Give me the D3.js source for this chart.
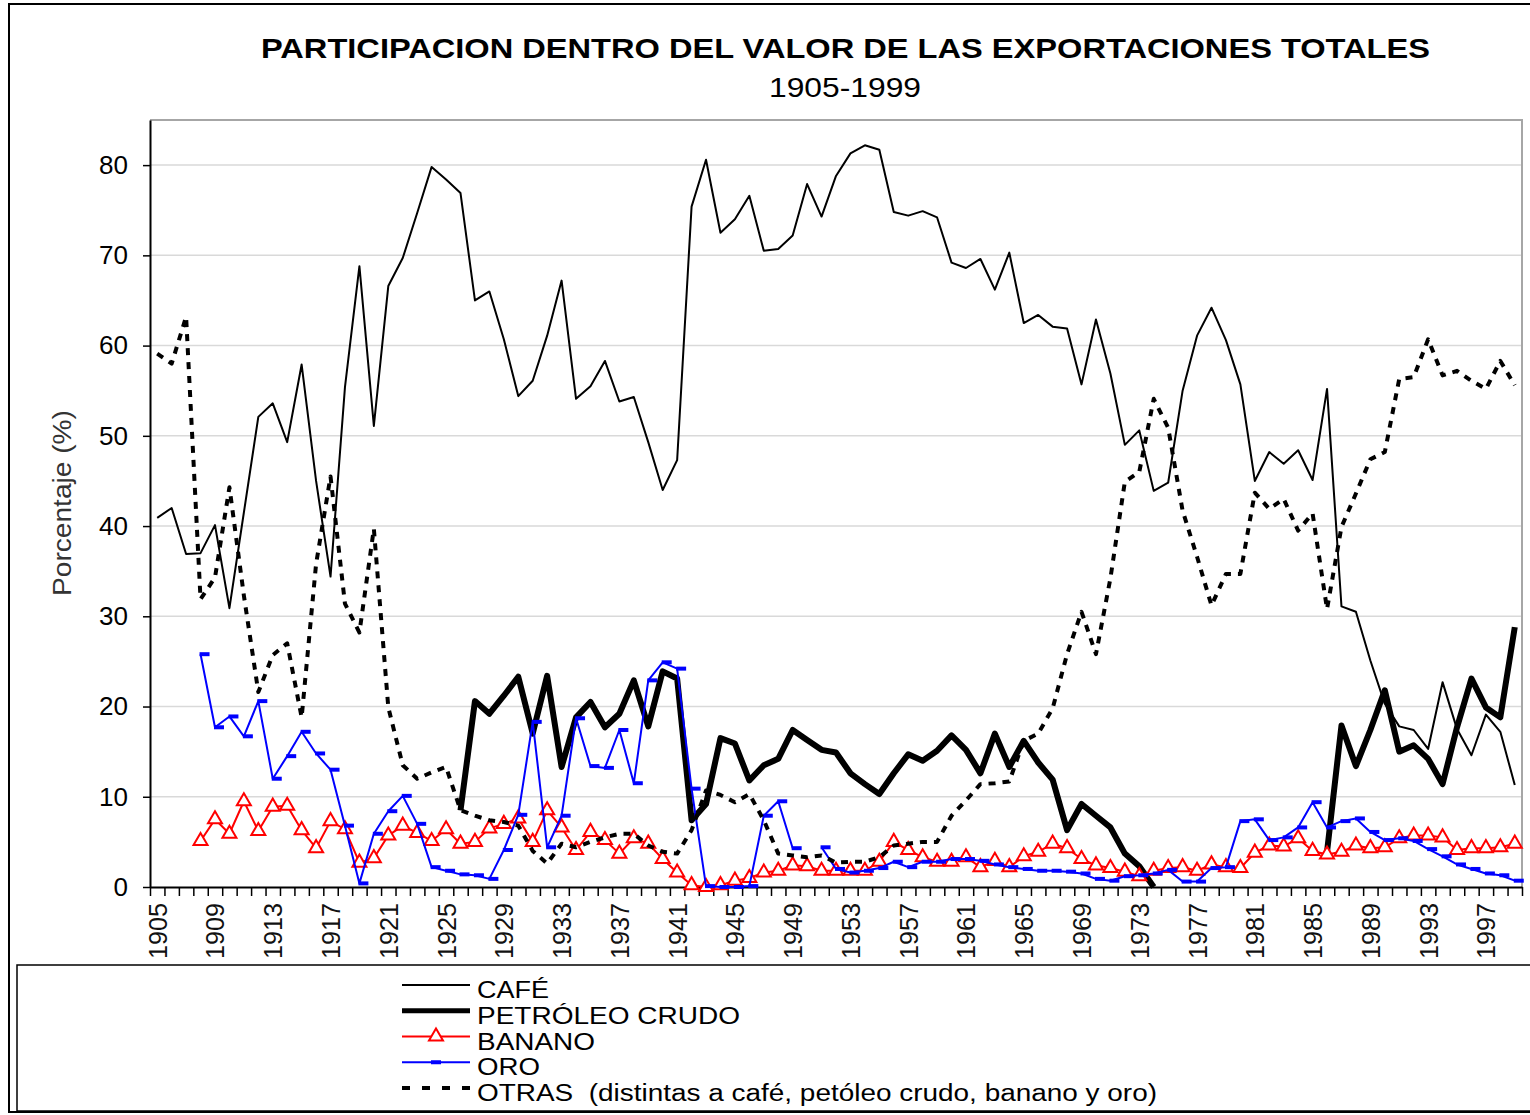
<!DOCTYPE html>
<html>
<head>
<meta charset="utf-8">
<title>Participación dentro del valor de las exportaciones totales</title>
<script src="https://cdn.jsdelivr.net/npm/d3@7"></script>
<style>
  body { margin: 0; background: #fff; }
  svg { display: block; font-family: "Liberation Sans", Arial, Helvetica, sans-serif; }
</style>
</head>
<body>
<div id="chart"></div>
<script>
// shares of total export value, 1905-1999
const years = d3.range(1905, 2000);

const cafe = [
  40.9, 42.0, 36.9, 37.0, 40.1, 30.9, 41.5, 52.1, 53.6, 49.3,
  57.9, 45.0, 34.4, 55.4, 68.8, 51.1, 66.6, 69.7, 74.7, 79.8,
  78.4, 76.9, 65.0, 66.0, 60.7, 54.4, 56.1, 61.1, 67.2, 54.1,
  55.5, 58.3, 53.8, 54.3, 49.3, 44.0, 47.3, 75.4, 80.6, 72.5,
  74.0, 76.6, 70.5, 70.7, 72.2, 77.9, 74.3, 78.8, 81.3, 82.2,
  81.7, 74.8, 74.4, 74.9, 74.2, 69.2, 68.6, 69.6, 66.2, 70.3,
  62.5, 63.4, 62.1, 61.9, 55.7, 62.9, 56.9, 49.0, 50.6, 43.9,
  44.8, 55.0, 61.1, 64.2, 60.6, 55.7, 45.0, 48.2, 46.9, 48.4,
  45.1, 55.2, 31.1, 30.5, 25.1, 20.3, 17.8, 17.4, 15.3, 22.7,
  17.5, 14.6, 19.1, 17.2, 11.3
];

const petroleo = [
  null, null, null, null, null, null, null, null, null, null,
  null, null, null, null, null, null, null, null, null, null,
  null, 8.5, 20.6, 19.2, 21.2, 23.3, 17.0, 23.4, 13.3, 18.8,
  20.5, 17.7, 19.2, 22.9, 17.8, 23.9, 23.1, 7.4, 9.2, 16.5,
  15.9, 11.8, 13.5, 14.2, 17.4, 16.3, 15.2, 14.9, 12.6, 11.4,
  10.3, 12.6, 14.7, 14.0, 15.1, 16.8, 15.2, 12.6, 17.0, 13.3,
  16.2, 13.8, 11.9, 6.3, 9.2, 7.9, 6.6, 3.7, 2.3, 0.0,
  null, null, null, null, null, null, null, null, null, null,
  null, 3.9, 17.9, 13.4, 17.4, 21.8, 15.0, 15.7, 14.2, 11.4,
  17.7, 23.1, 19.9, 18.8, 28.8
];

const banano = [
  null, null, null, 5.1, 7.5, 5.9, 9.5, 6.2, 8.9, 9.0,
  6.3, 4.3, 7.3, 6.4, 2.7, 3.2, 5.7, 6.8, 6.0, 5.1,
  6.4, 4.8, 5.0, 6.5, 7.0, 7.6, 5.0, 8.5, 6.6, 4.1,
  6.1, 5.2, 3.7, 5.4, 4.8, 3.1, 1.6, 0.2, 0.0, 0.2,
  0.7, 1.0, 1.6, 1.8, 2.4, 2.3, 1.8, 1.8, 1.8, 1.8,
  2.8, 5.0, 4.1, 3.3, 2.8, 2.8, 3.3, 2.2, 2.9, 2.2,
  3.4, 3.9, 4.8, 4.3, 3.1, 2.4, 2.1, 1.7, 1.2, 1.8,
  2.1, 2.2, 1.8, 2.5, 2.2, 2.1, 3.8, 4.6, 4.5, 5.4,
  4.0, 3.6, 3.9, 4.6, 4.3, 4.4, 5.4, 5.7, 5.7, 5.5,
  4.1, 4.3, 4.3, 4.4, 4.8
];

const oro = [
  null, null, null, 25.8, 17.7, 18.9, 16.7, 20.6, 12.0, 14.5,
  17.2, 14.8, 13.0, 6.8, 0.4, 5.9, 8.4, 10.1, 7.0, 2.2,
  1.8, 1.4, 1.3, 0.9, 4.1, 8.0, 18.3, 4.4, 7.9, 18.7,
  13.4, 13.2, 17.4, 11.5, 22.9, 24.9, 24.2, 10.9, 0.1, 0.0,
  0.0, 0.1, 7.9, 9.5, 4.3, null, 4.4, 2.0, 1.6, 1.8,
  2.1, 2.8, 2.2, 2.8, 2.8, 3.1, 3.1, 2.9, 2.5, 2.2,
  2.0, 1.8, 1.8, 1.7, 1.5, 0.9, 0.7, 1.2, 1.3, 1.5,
  1.9, 0.6, 0.6, 2.1, 2.2, 7.3, 7.5, 5.2, 5.5, 6.6,
  9.4, 6.6, 7.3, 7.6, 6.1, 5.2, 5.4, 5.1, 4.2, 3.4,
  2.5, 2.0, 1.5, 1.3, 0.7
];

const otras = [
  59.1, 58.0, 63.2, 31.9, 34.3, 44.3, 32.3, 21.6, 25.7, 27.0,
  18.8, 35.8, 45.5, 31.4, 28.2, 39.7, 19.9, 13.5, 12.0, 12.7,
  13.3, 8.5, 7.9, 7.4, 7.2, 6.8, 4.0, 2.6, 4.8, 4.4,
  5.0, 5.5, 5.9, 5.9, 4.6, 3.9, 3.7, 6.3, 10.7, 10.2,
  9.4, 10.3, 7.4, 3.7, 3.5, 3.3, 3.5, 2.7, 2.8, 2.8,
  3.3, 4.6, 4.8, 5.0, 5.0, 7.9, 9.6, 11.4, 11.5, 11.7,
  16.2, 17.0, 19.8, 25.8, 30.5, 25.8, 34.2, 44.9, 46.0, 54.1,
  50.9, 41.7, 36.6, 31.2, 34.7, 34.7, 43.7, 41.9, 43.0, 39.5,
  41.4, 30.8, 39.9, 43.6, 47.4, 48.2, 56.3, 56.5, 60.7, 56.7,
  57.2, 56.1, 55.2, 58.3, 55.6
];

const yTicks = [0, 10, 20, 30, 40, 50, 60, 70, 80];
const labelYears = years.filter(y => (y - 1905) % 4 === 0);

const seriesNames = ['CAFÉ', 'PETRÓLEO CRUDO', 'BANANO', 'ORO',
  'OTRAS  (distintas a café, petóleo crudo, banano y oro)'];

(function() {
  const width = 1530;
  const height = 1115;
  const plot = { left: 150, right: 1522, top: 120, bottom: 887 };

  const svg = d3.select('#chart').append('svg')
    .attr('width', width)
    .attr('height', height);

  svg.append('rect')
    .attr('width', width).attr('height', height)
    .attr('fill', '#fff');

  // outer chart frame
  svg.append('rect')
    .attr('x', 9).attr('y', 4)
    .attr('width', 1530).attr('height', 1108)
    .attr('fill', 'none')
    .attr('stroke', '#000')
    .attr('stroke-width', 2);

  // categories sit in the middle of each year slot, like Excel
  const x = d3.scaleLinear()
    .domain([1904.5, 1999.5])
    .range([plot.left, plot.right]);

  const y = d3.scaleLinear()
    .domain([0, 85])
    .range([plot.bottom, plot.top]);

  // title
  svg.append('text')
    .attr('x', 261).attr('y', 58)
    .attr('textLength', 1169)
    .attr('lengthAdjust', 'spacingAndGlyphs')
    .style('font-size', '28px')
    .style('font-weight', 700)
    .text('PARTICIPACION DENTRO DEL VALOR DE LAS EXPORTACIONES TOTALES');

  svg.append('text')
    .attr('x', 769).attr('y', 97)
    .attr('textLength', 152)
    .attr('lengthAdjust', 'spacingAndGlyphs')
    .style('font-size', '28px')
    .text('1905-1999');

  // gridlines
  svg.append('g')
    .selectAll('line')
    .data(yTicks.filter(d => d > 0))
    .enter().append('line')
    .attr('x1', plot.left).attr('x2', plot.right)
    .attr('y1', d => y(d)).attr('y2', d => y(d))
    .attr('stroke', '#d9d9d9')
    .attr('stroke-width', 1.5);

  // top and right edges of the plot area
  svg.append('path')
    .attr('d', `M${plot.left},${plot.top}H${plot.right}V${plot.bottom}`)
    .attr('fill', 'none')
    .attr('stroke', '#a6a6a6')
    .attr('stroke-width', 2);

  // y axis
  const yAxis = svg.append('g')
    .attr('transform', `translate(${plot.left},0)`)
    .call(d3.axisLeft(y).tickValues(yTicks).tickSize(7).tickPadding(15).tickSizeOuter(0));
  yAxis.select('.domain').attr('stroke-width', 2);
  yAxis.selectAll('.tick line').attr('stroke-width', 1.5);
  yAxis.selectAll('text')
    .style('font-size', '26px')
    .attr('fill', '#000')
    .attr('font-family', null);

  svg.append('text')
    .attr('transform', 'translate(62,503) rotate(-90)')
    .attr('text-anchor', 'middle')
    .attr('dy', '0.35em')
    .attr('textLength', 186)
    .attr('lengthAdjust', 'spacingAndGlyphs')
    .style('font-size', '26px')
    .attr('fill', '#333')
    .text('Porcentaje (%)');

  // x axis: tick marks between years, labels every fourth year
  const xTicks = svg.append('g')
    .attr('transform', `translate(0,${plot.bottom})`)
    .call(d3.axisBottom(x)
      .tickValues(d3.range(1904.5, 2000, 1))
      .tickSize(9).tickSizeOuter(0)
      .tickFormat(''));
  xTicks.select('.domain').attr('stroke-width', 2);
  xTicks.selectAll('.tick line').attr('stroke-width', 1.5);

  const xLabels = svg.append('g')
    .attr('transform', `translate(0,${plot.bottom})`)
    .call(d3.axisBottom(x)
      .tickValues(labelYears)
      .tickSize(0)
      .tickFormat(d3.format('d')));
  xLabels.select('.domain').remove();
  xLabels.selectAll('text')
    .attr('transform', 'rotate(-90)')
    .attr('x', -16)
    .attr('y', 0)
    .attr('dy', '0.36em')
    .attr('text-anchor', 'end')
    .attr('textLength', 56)
    .attr('lengthAdjust', 'spacingAndGlyphs')
    .attr('fill', '#111')
    .attr('font-family', null)
    .style('font-size', '25px');

  // series
  const toPoints = arr => years.map((yr, i) => ({ year: yr, v: arr[i] }));
  const line = d3.line()
    .defined(d => d.v != null)
    .x(d => x(d.year))
    .y(d => y(d.v));

  const series = [
    { name: seriesNames[0], data: toPoints(cafe), color: '#000', width: 2, dash: null, marker: null },
    { name: seriesNames[1], data: toPoints(petroleo), color: '#000', width: 6, dash: null, marker: null },
    { name: seriesNames[2], data: toPoints(banano), color: '#ff0000', width: 2, dash: null, marker: 'triangle' },
    { name: seriesNames[3], data: toPoints(oro), color: '#0000ff', width: 2, dash: null, marker: 'bar' },
    { name: seriesNames[4], data: toPoints(otras), color: '#000', width: 4, dash: '7 7', marker: null }
  ];

  const tri = d3.symbol().type(d3.symbolTriangle).size(85);

  series.forEach(s => {
    const g = svg.append('g');
    g.append('path')
      .datum(s.data)
      .attr('d', line)
      .attr('fill', 'none')
      .attr('stroke', s.color)
      .attr('stroke-width', s.width)
      .attr('stroke-linejoin', 'round')
      .attr('stroke-dasharray', s.dash);

    const pts = s.data.filter(d => d.v != null);
    if (s.marker === 'triangle') {
      g.selectAll('path.mk')
        .data(pts)
        .enter().append('path')
        .attr('class', 'mk')
        .attr('d', tri)
        .attr('transform', d => `translate(${x(d.year)},${y(d.v)})`)
        .attr('fill', '#fff')
        .attr('stroke', s.color)
        .attr('stroke-width', 2);
    } else if (s.marker === 'bar') {
      g.selectAll('rect.mk')
        .data(pts)
        .enter().append('rect')
        .attr('class', 'mk')
        .attr('x', d => x(d.year) - 1)
        .attr('y', d => y(d.v) - 2)
        .attr('width', 10)
        .attr('height', 4)
        .attr('fill', s.color);
    }
  });

  // legend
  const legend = svg.append('g');
  legend.append('rect')
    .attr('x', 17).attr('y', 965)
    .attr('width', 1530).attr('height', 146)
    .attr('fill', '#fff')
    .attr('stroke', '#000')
    .attr('stroke-width', 1.5);

  const legendWidths = [72, 263, 118, 63, 680];
  const rowY = d3.scalePoint().domain(seriesNames).range([985, 1088]);

  series.forEach((s, i) => {
    const ly = rowY(s.name);
    legend.append('line')
      .attr('x1', 402).attr('x2', 470)
      .attr('y1', ly).attr('y2', ly)
      .attr('stroke', s.color)
      .attr('stroke-width', s.width === 6 ? 5 : s.width)
      .attr('stroke-dasharray', s.dash ? '8 12' : null);
    if (s.marker === 'triangle') {
      legend.append('path')
        .attr('d', tri)
        .attr('transform', `translate(436,${ly})`)
        .attr('fill', '#fff')
        .attr('stroke', s.color)
        .attr('stroke-width', 2);
    } else if (s.marker === 'bar') {
      legend.append('rect')
        .attr('x', 431).attr('y', ly - 2)
        .attr('width', 10).attr('height', 4)
        .attr('fill', s.color);
    }
    // rows are tight in the original, so keep the glyphs a bit shorter
    legend.append('text')
      .attr('x', 477)
      .attr('y', ly + 13)
      .attr('textLength', legendWidths[i])
      .attr('lengthAdjust', 'spacingAndGlyphs')
      .style('white-space', 'pre')
      .style('font-size', '23px')
      .text(s.name);
  });
})();
</script>
</body>
</html>
